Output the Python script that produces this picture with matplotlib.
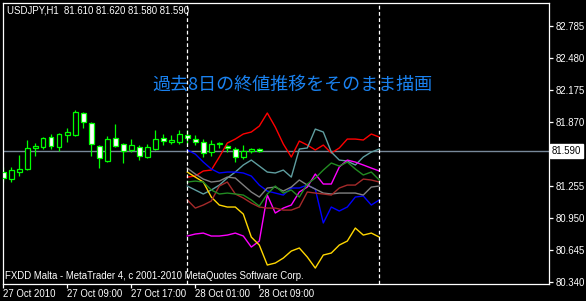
import numpy as np
import matplotlib.pyplot as plt
from matplotlib.transforms import blended_transform_factory

plt.rcParams['font.family'] = ['Liberation Sans Narrow', 'Liberation Sans', 'DejaVu Sans']

# USDJPY H1 candles, first bar = 27 Oct 2010 01:00
opens = [81.393, 81.321, 81.393, 81.419, 81.621, 81.625, 81.720, 81.631, 81.739, 81.742, 81.949,
         81.854, 81.640, 81.498, 81.711, 81.654, 81.600, 81.631, 81.536, 81.609, 81.711, 81.679,
         81.679, 81.739, 81.701, 81.673, 81.578, 81.654, 81.640, 81.606, 81.536, 81.590, 81.610]
highs = [81.441, 81.435, 81.552, 81.695, 81.669, 81.726, 81.749, 81.759, 81.812, 81.980, 81.958,
         81.869, 81.647, 81.733, 81.847, 81.663, 81.701, 81.647, 81.657, 81.790, 81.752, 81.742,
         81.790, 81.790, 81.742, 81.701, 81.695, 81.679, 81.647, 81.631, 81.647, 81.621, 81.620]
lows = [81.298, 81.298, 81.352, 81.409, 81.545, 81.609, 81.609, 81.590, 81.673, 81.733, 81.812,
        81.545, 81.425, 81.488, 81.631, 81.473, 81.583, 81.504, 81.521, 81.600, 81.647, 81.657,
        81.657, 81.661, 81.647, 81.530, 81.545, 81.616, 81.583, 81.488, 81.514, 81.568, 81.580]
closes = [81.330, 81.409, 81.419, 81.616, 81.638, 81.711, 81.640, 81.749, 81.768, 81.958, 81.863,
          81.654, 81.521, 81.701, 81.640, 81.593, 81.647, 81.545, 81.625, 81.701, 81.688, 81.695,
          81.749, 81.711, 81.679, 81.568, 81.654, 81.669, 81.616, 81.530, 81.590, 81.609, 81.590]
bid = 81.590

# close paths of the past 8 days, drawn from bar 23 (28 Oct 00:00) to bar 47
day_start = 23
day1 = [81.342, 81.352, 81.400, 81.409, 81.533, 81.666, 81.704, 81.752, 81.771, 81.828, 81.952, 81.818, 81.657,
        81.533, 81.685, 81.647, 81.600, 81.647, 81.571, 81.619, 81.704, 81.704, 81.695, 81.752, 81.723]
day2 = [81.257, 81.219, 81.181, 81.219, 81.266, 81.333, 81.390, 81.457, 81.504, 81.447, 81.390, 81.381, 81.409,
        81.342, 81.609, 81.619, 81.799, 81.771, 81.580, 81.504, 81.495, 81.457, 81.533, 81.580, 81.609]
day3 = [81.600, 81.561, 81.485, 81.419, 81.381, 81.390, 81.390, 81.381, 81.352, 81.266, 81.209, 81.190, 81.171,
        81.238, 81.238, 81.266, 81.228, 80.905, 81.057, 81.019, 81.057, 81.152, 81.162, 81.076, 81.124]
day4 = [80.781, 80.800, 80.809, 80.781, 80.781, 80.790, 80.809, 80.781, 80.676, 80.733, 81.171, 81.000, 81.047,
        81.076, 81.200, 81.247, 81.371, 81.276, 81.276, 81.438, 81.504, 81.485, 81.457, 81.428, 81.400]
day5 = [81.390, 81.342, 81.295, 81.152, 81.076, 81.057, 81.057, 80.990, 80.771, 80.695, 80.505, 80.524, 80.571,
        80.638, 80.667, 80.581, 80.476, 80.600, 80.619, 80.695, 80.733, 80.857, 80.790, 80.809, 80.771]
day6 = [81.428, 81.371, 81.323, 81.295, 81.304, 81.342, 81.333, 81.266, 81.200, 81.152, 81.238, 81.247, 81.209,
        81.247, 81.314, 81.266, 81.228, 81.190, 81.181, 81.190, 81.190, 81.190, 81.171, 81.247, 81.257]
day7 = [81.124, 81.047, 81.076, 81.114, 81.257, 81.295, 81.181, 81.143, 81.095, 81.057, 81.047, 81.047, 81.028,
        81.028, 81.057, 81.200, 81.190, 81.181, 81.171, 81.238, 81.266, 81.266, 81.323, 81.314, 81.295]
day8 = [81.295, 81.304, 81.295, 81.219, 81.181, 81.190, 81.181, 81.171, 81.124, 81.066, 81.181, 81.257, 81.190,
        81.219, 81.152, 81.276, 81.333, 81.409, 81.476, 81.447, 81.485, 81.419, 81.362, 81.390, 81.314]
days = [day1, day2, day3, day4, day5, day6, day7, day8]
day_colors = ['#ff0000', '#5f9ea0', '#0000ff', '#ff00ff', '#ffd700', '#808080', '#a52a2a', '#228b22']

time_ticks = [0, 8, 16, 24, 32]
time_labels = ['27 Oct 2010', '27 Oct 09:00', '27 Oct 17:00', '28 Oct 01:00', '28 Oct 09:00']
# the 81.565 grid label sits under the bid box, so only its tick shows
price_ticks = [82.785, 82.480, 82.175, 81.870, 81.565, 81.255, 80.950, 80.645, 80.340]
price_labels = ['82.785', '82.480', '82.175', '81.870', '', '81.255', '80.950', '80.645', '80.340']

fs = 6.9

fig = plt.figure(figsize=(5.86, 3.01), dpi=100, facecolor='black')
ax = fig.add_axes([2.5 / 586, 1 - 283.5 / 301, 546 / 586, 281 / 301], facecolor='black')

# bid line
ax.axhline(bid, color='#778899', lw=1.0, zorder=1)

# candles
x = np.arange(len(opens))
o = np.array(opens)
c = np.array(closes)
ax.vlines(x, lows, highs, color='#00ff00', lw=0.9, zorder=2)
body_bottom = np.minimum(o, c)
body_height = np.maximum(np.abs(c - o), 0.002)
face = ['black' if cc > oo else 'white' for oo, cc in zip(o, c)]
ax.bar(x, body_height, width=0.55, bottom=body_bottom, color=face,
       edgecolor='#00ff00', linewidth=0.9, zorder=3)

# past days overlay
xd = np.arange(day_start, day_start + len(day1))
for vals, col in zip(days, day_colors):
    ax.plot(xd, vals, color=col, lw=1.0, zorder=4)

# day separators
for xv in [day_start, day_start + 24]:
    ax.axvline(xv, color='white', lw=0.9, linestyle=(0, (3, 2)), zorder=5)

ax.set_xlim(-0.1, 68.15)
ax.set_ylim(80.329, 83.004)

for s in ax.spines.values():
    s.set_color('white')
    s.set_linewidth(0.9)

ax.yaxis.tick_right()
ax.set_yticks(price_ticks)
ax.set_yticklabels(price_labels)
ax.set_xticks(time_ticks)
ax.set_xticklabels(time_labels, ha='left')
ax.tick_params(axis='both', colors='white', labelcolor='white', labelsize=fs,
               length=3, width=0.9, direction='out')
ax.tick_params(axis='y', pad=2)
ax.tick_params(axis='x', pad=1)

trans = blended_transform_factory(ax.transAxes, ax.transData)
ax.text(1.006, bid, '81.590', transform=trans, color='black', fontsize=fs,
        va='center', ha='left', zorder=10, clip_on=False,
        bbox=dict(facecolor='white', edgecolor='white', boxstyle='square,pad=0.2'))

ax.text(0.0075, 0.9715, 'USDJPY,H1  81.610 81.620 81.580 81.590', transform=ax.transAxes,
        color='white', fontsize=fs, va='center', ha='left')
ax.text(0.0046, 0.028, 'FXDD Malta - MetaTrader 4, c 2001-2010 MetaQuotes Software Corp.',
        transform=ax.transAxes, color='white', fontsize=fs, va='center', ha='left')
ax.text(0.274, 0.706, '過去8日の終値推移をそのまま描画', transform=ax.transAxes,
        color='#1a82f0', fontsize=13, va='center', ha='left',
        family=['Noto Sans CJK JP', 'DejaVu Sans'])

fig.savefig('out.png', dpi=100, facecolor='black')
